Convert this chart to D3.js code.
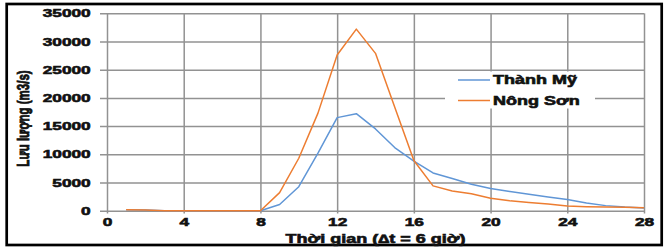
<!DOCTYPE html>
<html>
<head>
<meta charset="utf-8">
<script src="https://cdn.jsdelivr.net/npm/d3@7"></script>
<style>
	body { margin: 0; background: #fff; }
	svg { display: block; }
	text { font-family: "Liberation Sans", Arial, sans-serif; font-weight: 700; fill: #111; stroke: #111; stroke-width: 0.6px; }
</style>
</head>
<body>
<svg id="chart" width="664" height="248"></svg>
<script>
// time steps (dt = 6 hours)
let steps = d3.range(1, 29)
// discharge, m3/s
let thanhMy = [150, 120, 0, 0, 0, 0, 0, 0, 1100, 4250, 10200, 16500, 17200, 14500,
	11200, 8800, 6700, 5700, 4700, 3950, 3400, 2900, 2450, 2000, 1350, 900, 650, 500]
let nongSon = [150, 120, 0, 0, 0, 0, 0, 0, 3200, 9300, 17300, 27600, 32200, 27900,
	18400, 8900, 4400, 3500, 3000, 2200, 1750, 1450, 1200, 850, 720, 650, 600, 520]
let xTicks = [0, 4, 8, 12, 16, 20, 24, 28]
let yTicks = [0, 5000, 10000, 15000, 20000, 25000, 30000, 35000]
let seriesNames = ['Thành Mỹ', 'Nông Sơn']
let seriesColors = ['#6096d6', '#ed7d31']

let STRETCH = 1.5
let GRID = '#929292'

let plot = { left: 107, right: 644, top: 13.3, bottom: 210.7 }

let svg = d3.select('#chart')

let x = d3.scaleLinear().domain([0, 28]).range([plot.left, plot.right])
let y = d3.scaleLinear().domain([0, 35000]).range([plot.bottom, plot.top])

// outer frame
svg.append('rect')
	.attr('x', 6.7).attr('y', 4)
	.attr('width', 655).attr('height', 241)
	.attr('fill', '#fff')
	.attr('stroke', '#000')
	.attr('stroke-width', 2.7)

// horizontal grid + y labels
let yAxis = svg.append('g')
	.attr('transform', `translate(${plot.right}, 0)`)
	.call(d3.axisLeft(y).tickValues(yTicks).tickFormat(d3.format('d'))
		.tickSize(plot.right - 100).tickPadding(9.3))
yAxis.select('.domain').remove()
yAxis.selectAll('line').attr('stroke', GRID).attr('stroke-width', 1.5)
yAxis.selectAll('text')
	.attr('x', 0)
	.attr('transform', `translate(${-(plot.right - 100 + 9.3)}, 0) scale(${STRETCH}, 1)`)
	.style('font-size', '11.5px')

// vertical grid + x labels
let xAxis = svg.append('g')
	.attr('transform', `translate(0, ${plot.top})`)
	.call(d3.axisBottom(x).tickValues(xTicks).tickSize(213.5 - plot.top).tickPadding(4.5))
xAxis.select('.domain').remove()
xAxis.selectAll('line').attr('stroke', GRID).attr('stroke-width', 1.5)
xAxis.selectAll('text')
	.attr('transform', `scale(${STRETCH}, 1)`)
	.style('font-size', '11.5px')

// legend box hides the grid behind it
svg.append('rect')
	.attr('x', 445).attr('y', 71.5)
	.attr('width', 150).attr('height', 37)
	.attr('fill', '#fff')

// series
let line = d3.line()
	.x((d, i) => x(steps[i]))
	.y((d) => y(d))

;[thanhMy, nongSon].forEach((values, i) => {
	svg.append('path')
		.datum(values)
		.attr('fill', 'none')
		.attr('stroke', seriesColors[i])
		.attr('stroke-width', 1.5)
		.attr('stroke-linejoin', 'round')
		.attr('d', line)
})

// legend
let legend = svg.append('g')
seriesNames.forEach((name, i) => {
	let cy = 80 + i * 20.5
	legend.append('line')
		.attr('x1', 458).attr('x2', 490)
		.attr('y1', cy).attr('y2', cy)
		.attr('stroke', seriesColors[i])
		.attr('stroke-width', 1.5)
	legend.append('text')
		.attr('transform', `translate(493, ${cy + 4.2}) scale(${STRETCH}, 1)`)
		.style('font-size', '12px')
		.text(name)
})

// axis titles
svg.append('text')
	.attr('transform', `translate(${(plot.left + plot.right) / 2}, 242.5) scale(${STRETCH}, 1)`)
	.attr('text-anchor', 'middle')
	.style('font-size', '12px')
	.text('Thời gian (∆t = 6 giờ)')

svg.append('text')
	.attr('transform', `translate(29, 118.5) scale(${STRETCH}, 1) rotate(-90)`)
	.attr('text-anchor', 'middle')
	.style('font-size', '11.5px')
	.text('Lưu lượng (m3/s)')
</script>
</body>
</html>
